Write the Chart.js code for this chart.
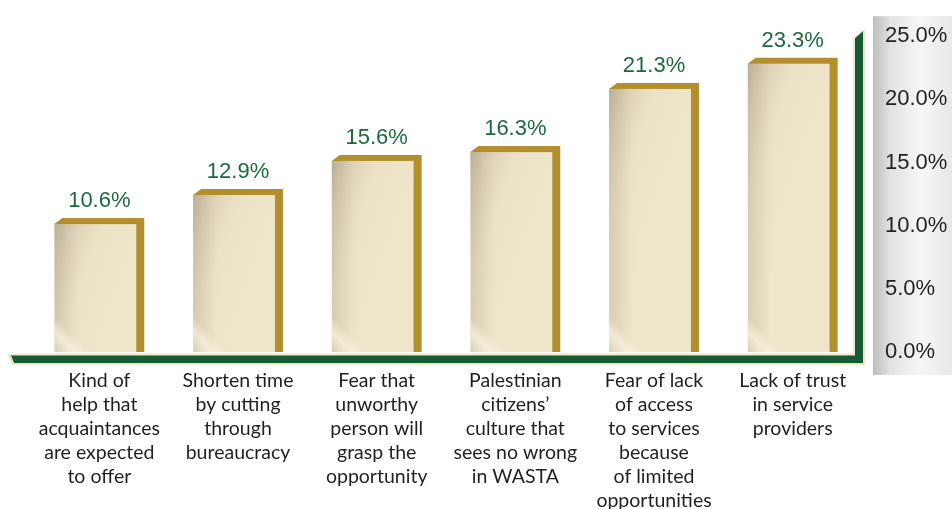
<!DOCTYPE html>
<html>
<head>
<meta charset="utf-8">
<script src="https://cdn.jsdelivr.net/npm/chart.js@4"></script>
<style>
  html, body { margin: 0; padding: 0; background: #ffffff; }
  #wrap { width: 952px; height: 509px; position: relative; }
</style>
</head>
<body>
<div id="wrap"><canvas id="c" width="952" height="509"></canvas></div>
<script>
// Reasons for using WASTA (share of respondents)
const categories = [
  ["Kind of", "help that", "acquaintances", "are expected", "to offer"],
  ["Shorten time", "by cutting", "through", "bureaucracy"],
  ["Fear that", "unworthy", "person will", "grasp the", "opportunity"],
  ["Palestinian", "citizens’", "culture that", "sees no wrong", "in WASTA"],
  ["Fear of lack", "of access", "to services", "because", "of limited", "opportunities"],
  ["Lack of trust", "in service", "providers"]
];
const shares = [10.6, 12.9, 15.6, 16.3, 21.3, 23.3];
const axisTicks = [0, 5, 10, 15, 20, 25];

const GREEN = '#155c36';
const CREAM = '#efe6c9';
const GOLD = '#b28f2c';
const DEPTH_X = 8;
const DEPTH_Y = 6;

const stagePlugin = {
  id: 'stage',
  // gray panel behind the value axis (painted before the scales)
  beforeDraw(chart) {
    const ctx = chart.ctx;
    const a = chart.chartArea;
    const yScale = chart.scales.y;
    const px = a.right + 11, py = a.top - 20, pw = chart.width - px, ph = yScale.bottom + 23 - py;
    ctx.save();
    const g = ctx.createLinearGradient(px, 0, px + pw, 0);
    g.addColorStop(0, '#bdbdbd');
    g.addColorStop(0.22, '#e2e2e2');
    g.addColorStop(0.6, '#f6f6f6');
    g.addColorStop(1, '#e8e8e8');
    ctx.fillStyle = g;
    ctx.fillRect(px, py, pw, ph);
    ctx.restore();
  },
  // green floor and back wall with a cream rim
  beforeDatasetsDraw(chart) {
    const ctx = chart.ctx;
    const a = chart.chartArea;
    const base = chart.scales.y.getPixelForValue(0);
    const fTop = base + 3.5, fBot = base + 11;
    const wR = a.right + 1, wL = wR - 8;
    const wallTopL = a.top, wallTopR = a.top - 5;
    ctx.save();
    ctx.fillStyle = CREAM;
    ctx.beginPath();
    ctx.moveTo(7, fTop - 2);
    ctx.lineTo(wL - 2, fTop - 2);
    ctx.lineTo(wL - 2, wallTopL + 1);
    ctx.lineTo(wR + 2, wallTopR - 2);
    ctx.lineTo(wR + 2, fBot + 2);
    ctx.lineTo(12, fBot + 2);
    ctx.closePath();
    ctx.fill();

    ctx.fillStyle = GREEN;
    ctx.beginPath();
    ctx.moveTo(11, fTop);
    ctx.lineTo(wL, fTop);
    ctx.lineTo(wL, wallTopL + 2);
    ctx.lineTo(wR, wallTopR);
    ctx.lineTo(wR, fBot);
    ctx.lineTo(14, fBot);
    ctx.closePath();
    ctx.fill();
    ctx.restore();
  },
  // 3-D style columns and their value labels
  afterDatasetsDraw(chart) {
    const ctx = chart.ctx;
    const meta = chart.getDatasetMeta(0);
    ctx.save();
    meta.data.forEach((bar, i) => {
      const p = bar.getProps(['x', 'y', 'base', 'width'], true);
      const xL = p.x - p.width / 2, xR = p.x + p.width / 2;
      const yT = p.y, yB = p.base;

      ctx.fillStyle = GOLD;
      ctx.beginPath();
      ctx.moveTo(xL, yT + DEPTH_Y);
      ctx.lineTo(xL + DEPTH_X, yT);
      ctx.lineTo(xR, yT);
      ctx.lineTo(xR, yB);
      ctx.lineTo(xR - DEPTH_X, yB);
      ctx.closePath();
      ctx.fill();

      const fx = xL, fy = yT + DEPTH_Y, fw = p.width - DEPTH_X, fh = yB - fy;
      const g = ctx.createLinearGradient(fx, fy, fx + fw, fy + fw * 0.35);
      g.addColorStop(0, '#c6bca2');
      g.addColorStop(0.2, '#ddd2b6');
      g.addColorStop(0.5, '#ebe1c5');
      g.addColorStop(1, '#efe5ca');
      ctx.fillStyle = g;
      ctx.fillRect(fx, fy, fw, fh);

      ctx.save();
      ctx.beginPath();
      ctx.rect(fx, fy, fw, fh);
      ctx.clip();
      const s = ctx.createLinearGradient(fx, 0, fx + 24, 0);
      s.addColorStop(0, 'rgba(140,130,105,0.22)');
      s.addColorStop(1, 'rgba(140,130,105,0)');
      ctx.fillStyle = s;
      ctx.fillRect(fx, fy, 24, fh);
      // pale diagonal glint near the foot
      const gl = ctx.createLinearGradient(fx, yB, fx + 30, yB - 30);
      gl.addColorStop(0, 'rgba(250,244,225,0)');
      gl.addColorStop(0.35, 'rgba(250,244,225,0.7)');
      gl.addColorStop(0.6, 'rgba(250,244,225,0)');
      gl.addColorStop(1, 'rgba(250,244,225,0)');
      ctx.fillStyle = gl;
      ctx.fillRect(fx, fy, fw, fh);
      ctx.restore();

      ctx.fillStyle = '#1b6a3e';
      ctx.font = '22px "Liberation Sans", Arial, sans-serif';
      ctx.textAlign = 'center';
      ctx.textBaseline = 'middle';
      ctx.fillText(shares[i].toFixed(1) + '%', p.x, yT - 17);
    });
    ctx.restore();
  }
};

new Chart(document.getElementById('c'), {
  type: 'bar',
  data: {
    labels: categories,
    datasets: [{
      data: shares,
      backgroundColor: 'rgba(0,0,0,0)',
      borderWidth: 0,
      categoryPercentage: 1,
      barPercentage: 0.648
    }]
  },
  options: {
    responsive: false,
    animation: false,
    events: [],
    layout: { padding: { left: 30, top: 33, right: 0, bottom: 0 } },
    plugins: { legend: { display: false }, tooltip: { enabled: false } },
    scales: {
      x: {
        grid: { display: false, drawTicks: false },
        border: { display: false },
        ticks: {
          color: '#231f20',
          font: { family: 'Lato, "Open Sans", sans-serif', size: 19.5, lineHeight: 1.23 },
          padding: 17,
          maxRotation: 0,
          autoSkip: false
        },
        afterFit(scale) { scale.height = 157; }
      },
      y: {
        position: 'right',
        min: 0,
        max: 25,
        grid: { display: false, drawTicks: false },
        border: { display: false },
        afterBuildTicks(scale) { scale.ticks = axisTicks.map(v => ({ value: v })); },
        ticks: {
          color: '#231f20',
          font: { family: '"Liberation Sans", Arial, sans-serif', size: 22 },
          padding: 23,
          callback: v => Number(v).toFixed(1) + '%'
        },
        afterFit(scale) { scale.width = 90; }
      }
    }
  },
  plugins: [stagePlugin]
});
</script>
</body>
</html>
